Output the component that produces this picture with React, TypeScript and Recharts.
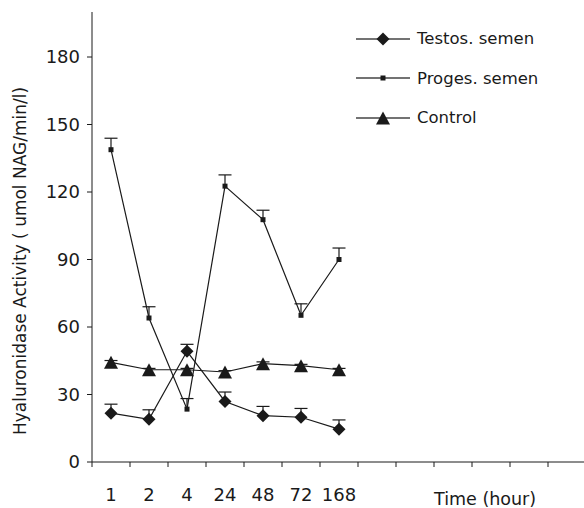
import { LineChart, Line, XAxis, YAxis, ErrorBar, Legend } from "recharts";

/* ── Data ── */
const times = ["1", "2", "4", "24", "48", "72", "168"];
const testos = [21.7, 19.0, 49.2, 26.9, 20.6, 19.9, 14.6];
const testosErr = [4.0, 4.2, 3.1, 4.2, 4.1, 3.9, 4.1];
const proges = [138.8, 64.0, 23.5, 122.6, 107.7, 65.2, 90.0];
const progesErr = [5.1, 5.0, 4.7, 5.0, 4.2, 5.1, 5.1];
const control = [44.3, 41.0, 41.0, 40.0, 43.7, 42.8, 41.0];
const controlErr = [0.8, 0.6, 0.6, 0.6, 0.8, 0.6, 0.6];
const yTicks = [0, 30, 60, 90, 120, 150, 180];
const seriesOrder = ["testos", "proges", "control"];
const slotCount = 13; // the time axis has 13 slots, only the first 7 hold data

const rows = times.map((time, i) => ({
    slot: i + 0.5,
    time,
    testos: testos[i],
    testosErr: [0, testosErr[i]],
    proges: proges[i],
    progesErr: [0, progesErr[i]],
    control: control[i],
    controlErr: [0, controlErr[i]],
}));
const frameTicks = Array.from({ length: slotCount + 1 }, (_, i) => i);

const FONT = "'DejaVu Sans', sans-serif";
const INK = "#1a1a1a";

/* ── Markers ── */
type Shape = "diamond" | "square" | "triangle";
function Marker({ cx, cy, shape, knockout = false }: { cx: number; cy: number; shape: Shape; knockout?: boolean }) {
    if (shape === "diamond") {
        const r = 6.5;
        return <polygon points={`${cx},${cy - r} ${cx + r},${cy} ${cx},${cy + r} ${cx - r},${cy}`} fill={INK} />;
    }
    if (shape === "triangle") {
        const w = 7, h = 6.5;
        return <polygon points={`${cx},${cy - h} ${cx + w},${cy + h} ${cx - w},${cy + h}`} fill={INK} />;
    }
    return (
        <g>
            {knockout && <rect x={cx - 7} y={cy - 1} width={14} height={2} fill="#fff" />}
            <rect x={cx - 2.5} y={cy - 2.5} width={5} height={5} fill={INK} />
        </g>
    );
}

const dotOf = (shape: Shape) => (p: any) => <Marker key={`${shape}-${p.index}`} cx={p.cx} cy={p.cy} shape={shape} knockout />;

const shapeByKey: Record<string, Shape> = { testos: "diamond", proges: "square", control: "triangle" };

function LegendBox({ payload }: any) {
    const items = [...(payload || [])].sort(
        (a: any, b: any) => seriesOrder.indexOf(a.dataKey) - seriesOrder.indexOf(b.dataKey)
    );
    return (
        <div style={{ fontFamily: FONT, fontSize: 16.5, color: INK }}>
            {items.map((item: any) => (
                <div key={item.value} style={{ display: "flex", alignItems: "center", height: 39.5 }}>
                    <svg width={54} height={16} style={{ marginRight: 7 }}>
                        <line x1={0} y1={8} x2={54} y2={8} stroke="#444" strokeWidth={1.3} />
                        <Marker cx={27} cy={8} shape={shapeByKey[item.dataKey]} />
                    </svg>
                    <span>{item.value}</span>
                </div>
            ))}
        </div>
    );
}

export default function App() {
    return (
        <div style={{ position: "absolute", left: 0, top: 0, width: 584, height: 508, background: "#fff" }}>
            <style>{`.recharts-errorBar line:nth-of-type(3){display:none}`}</style>
            <LineChart width={584} height={508} data={rows} margin={{ top: 12, right: -2, left: 0, bottom: 0 }}>
                <XAxis
                    xAxisId="frame"
                    type="number"
                    dataKey="slot"
                    domain={[0, slotCount]}
                    ticks={frameTicks}
                    interval={0}
                    tickFormatter={() => ""}
                    height={6}
                    tickSize={5}
                    stroke={INK}
                    allowDataOverflow
                />
                <XAxis
                    xAxisId="labels"
                    type="number"
                    dataKey="slot"
                    domain={[0, slotCount]}
                    ticks={rows.map((r) => r.slot)}
                    interval={0}
                    tickFormatter={(v: number) => times[Math.floor(v)]}
                    height={40}
                    axisLine={false}
                    tickLine={false}
                    tickSize={0}
                    tickMargin={20}
                    tick={{ fill: INK, fontSize: 18, fontFamily: FONT }}
                    allowDataOverflow
                />
                <YAxis
                    type="number"
                    domain={[0, 200]}
                    ticks={yTicks}
                    interval={0}
                    width={92}
                    tickSize={5}
                    tickMargin={7}
                    stroke={INK}
                    tick={{ fill: INK, fontSize: 18, fontFamily: FONT }}
                />
                <Legend
                    layout="vertical"
                    align="center"
                    verticalAlign="middle"
                    wrapperStyle={{ left: 356, top: 19, width: 220, height: 120 }}
                    content={<LegendBox />}
                />
                <Line xAxisId="frame" dataKey="testos" name="Testos. semen" stroke={INK} strokeWidth={1.2} dot={dotOf("diamond")} activeDot={false} isAnimationActive={false}>
                    <ErrorBar dataKey="testosErr" direction="y" width={6.5} stroke={INK} strokeWidth={1.2} />
                </Line>
                <Line xAxisId="frame" dataKey="proges" name="Proges. semen" stroke={INK} strokeWidth={1.2} dot={dotOf("square")} activeDot={false} isAnimationActive={false}>
                    <ErrorBar dataKey="progesErr" direction="y" width={6.5} stroke={INK} strokeWidth={1.2} />
                </Line>
                <Line xAxisId="frame" dataKey="control" name="Control" stroke={INK} strokeWidth={1.2} dot={dotOf("triangle")} activeDot={false} isAnimationActive={false}>
                    <ErrorBar dataKey="controlErr" direction="y" width={6.5} stroke={INK} strokeWidth={1.2} />
                </Line>
            </LineChart>
            <div
                style={{
                    position: "absolute",
                    left: 20,
                    top: 261,
                    transform: "translate(-50%, -50%) rotate(-90deg)",
                    whiteSpace: "nowrap",
                    fontFamily: FONT,
                    fontSize: 17,
                    lineHeight: 1,
                    color: INK,
                }}
            >
                Hyaluronidase Activity ( umol NAG/min/l)
            </div>
            <div
                style={{
                    position: "absolute",
                    left: 434,
                    top: 491,
                    whiteSpace: "nowrap",
                    fontFamily: FONT,
                    fontSize: 17.5,
                    lineHeight: 1,
                    color: INK,
                }}
            >
                Time (hour)
            </div>
        </div>
    );
}
